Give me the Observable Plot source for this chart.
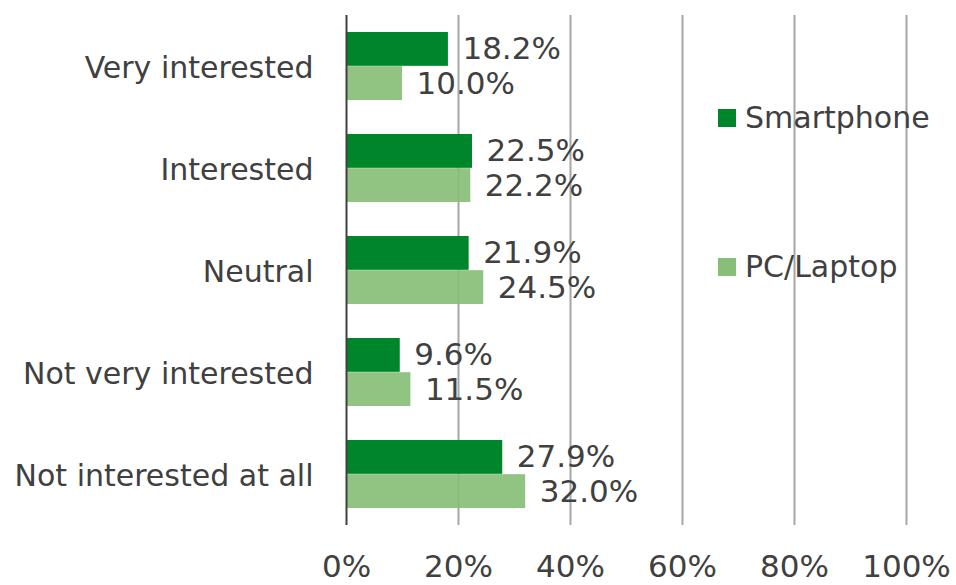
<!DOCTYPE html>
<html>
<head>
<meta charset="utf-8">
<script src="https://cdn.jsdelivr.net/npm/d3@7"></script>
<script src="https://cdn.jsdelivr.net/npm/@observablehq/plot@0.6"></script>
<style>
  html, body { margin: 0; padding: 0; background: #fff; }
  #wrap { position: relative; width: 956px; height: 585px; font-family: "DejaVu Sans", Verdana, sans-serif; }
  .legend { position: absolute; left: 718px; display: flex; align-items: center; font-size: 30px; color: #404040; }
  .legend .sw { width: 18px; height: 18px; margin-right: 9px; }
</style>
</head>
<body>
<div id="wrap"></div>
<script>
const categories = ["Very interested", "Interested", "Neutral", "Not very interested", "Not interested at all"];
const series = ["Smartphone", "PC/Laptop"];
const smartphone = [18.2, 22.5, 21.9, 9.6, 27.9];
const pcLaptop = [10.0, 22.2, 24.5, 11.5, 32.0];
const xTicks = [0, 20, 40, 60, 80, 100];
const colors = ["#00862a", "#88bf78"];

const rows = [];
categories.forEach((c, i) => {
  rows.push({category: c, series: series[0], value: smartphone[i]});
  rows.push({category: c, series: series[1], value: pcLaptop[i]});
});
const sRows = rows.filter(d => d.series === series[0]);
const pRows = rows.filter(d => d.series === series[1]);

const W = 956, H = 585, mTop = 15, mBottom = 60, mLeft = 346, mRight = 50;
const pIn = 0.33, pOut = 0.165;
const step = (H - mTop - mBottom) / (categories.length - pIn + 2 * pOut);
const bw = step * (1 - pIn);
const half = bw / 2;
const fmt = v => v.toFixed(1) + "%";

const chart = Plot.plot({
  width: W,
  height: H,
  marginTop: mTop,
  marginBottom: mBottom,
  marginLeft: mLeft,
  marginRight: mRight,
  style: {fontFamily: "DejaVu Sans, Verdana, sans-serif", background: "#fff", color: "#404040"},
  x: {domain: [0, 100], axis: null},
  y: {domain: categories, paddingInner: pIn, paddingOuter: pOut, axis: null},
  marks: [
    Plot.ruleX(xTicks.filter(t => t > 0), {stroke: "#a6a6a6", strokeWidth: 2}),
    Plot.barX(sRows, {x: "value", y: "category", fill: colors[0], insetBottom: half}),
    Plot.barX(pRows, {x: "value", y: "category", fill: colors[1], fillOpacity: 0.92, insetTop: half}),
    Plot.ruleX([0], {stroke: "#404040", strokeWidth: 2}),
    Plot.text(sRows, {x: "value", y: "category", text: d => fmt(d.value), dy: -half / 2, dx: 14, textAnchor: "start", fontSize: 31, fill: "#404040"}),
    Plot.text(pRows, {x: "value", y: "category", text: d => fmt(d.value), dy: half / 2, dx: 14, textAnchor: "start", fontSize: 31, fill: "#404040"}),
    Plot.text(categories, {x: 0, y: d => d, text: d => d, dx: -33, dy: 2, textAnchor: "end", fontSize: 30, fill: "#404040"}),
    Plot.text(xTicks, {x: d => d, frameAnchor: "bottom", dy: 51, text: d => d + "%", fontSize: 31, fill: "#404040"})
  ]
});

const wrap = document.getElementById("wrap");
wrap.appendChild(chart);

const legendTops = [100, 249];
series.forEach((s, i) => {
  const el = document.createElement("div");
  el.className = "legend";
  el.style.top = legendTops[i] + "px";
  el.innerHTML = `<div class="sw" style="background:${colors[i]}"></div><span>${s}</span>`;
  wrap.appendChild(el);
});
</script>
</body>
</html>
